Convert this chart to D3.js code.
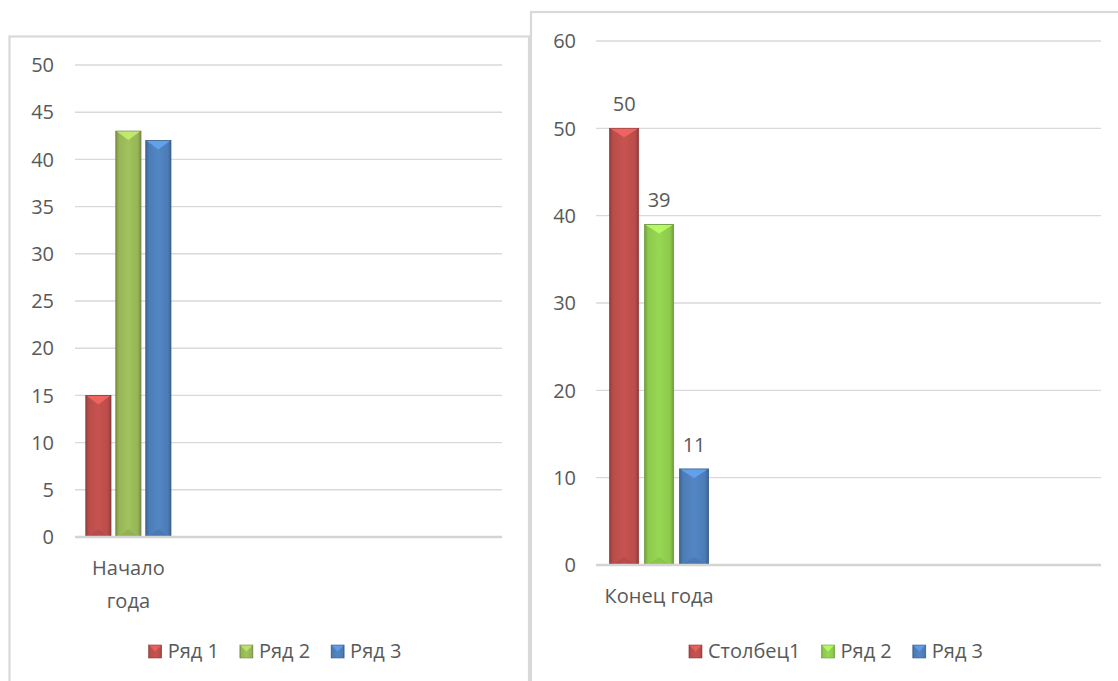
<!DOCTYPE html>
<html>
<head>
<meta charset="utf-8">
<script src="https://cdn.jsdelivr.net/npm/d3@7/dist/d3.min.js"></script>
<style>
  html, body { margin: 0; padding: 0; background: #fff; }
  svg { display: block; }
  text { font-family: "Open Sans", "Noto Sans", sans-serif; fill: #595959; }
</style>
</head>
<body>
<svg id="chart" width="1118" height="681"></svg>
<script>
// ---- data ----
const leftCategories = ["Начало года", "", "", ""];
const leftSeries = ["Ряд 1", "Ряд 2", "Ряд 3"];
const leftValues = [15, 43, 42];          // values for the first category
const leftTicks = [0, 5, 10, 15, 20, 25, 30, 35, 40, 45, 50];
const leftColors = ["#C0504D", "#9BBB59", "#4F81BD"];

const rightCategories = ["Конец года", "", "", ""];
const rightSeries = ["Столбец1", "Ряд 2", "Ряд 3"];
const rightValues = [50, 39, 11];
const rightTicks = [0, 10, 20, 30, 40, 50, 60];
const rightColors = ["#C0504D", "#92D050", "#4F81BD"];

const svg = d3.select("#chart");
const defs = svg.append("defs");
let gradId = 0;
function gradFor(color) {
  const id = "g" + (gradId++);
  const c = d3.color(color);
  const g = defs.append("linearGradient").attr("id", id)
    .attr("x1", 0).attr("x2", 1).attr("y1", 0).attr("y2", 0);
  g.append("stop").attr("offset", 0).attr("stop-color", c.darker(0.7));
  g.append("stop").attr("offset", 0.12).attr("stop-color", c.darker(0.1));
  g.append("stop").attr("offset", 0.5).attr("stop-color", c.brighter(0.1));
  g.append("stop").attr("offset", 0.88).attr("stop-color", c.darker(0.1));
  g.append("stop").attr("offset", 1).attr("stop-color", c.darker(0.8));
  return id;
}

function wrapLines(text, maxWidth) {
  const words = text.split(/\s+/);
  const probe = svg.append("text").style("font-size", "20px");
  const lines = [];
  let cur = "";
  words.forEach(w => {
    const t = cur ? cur + " " + w : w;
    probe.text(t);
    if (probe.node().getComputedTextLength() > maxWidth && cur) {
      lines.push(cur); cur = w;
    } else cur = t;
  });
  if (cur) lines.push(cur);
  probe.remove();
  return lines;
}

function drawChart(cfg) {
  const g = svg.append("g");
  // frame
  g.append("rect")
    .attr("x", cfg.frame[0]).attr("y", cfg.frame[1])
    .attr("width", cfg.frame[2]).attr("height", cfg.frame[3])
    .attr("fill", "#fff").attr("stroke", "#d9d9d9").attr("stroke-width", 2.2);

  const y = d3.scaleLinear().domain([0, d3.max(cfg.ticks)]).range([cfg.y0, cfg.y1]);
  const x = d3.scaleBand().domain(d3.range(cfg.categories.length)).range([cfg.x0, cfg.x1]);
  const xs = d3.scaleBand().domain(cfg.series).range([0, x.bandwidth()])
    .paddingInner(cfg.pin).paddingOuter(cfg.pout);

  // gridlines
  g.append("g").selectAll("line").data(cfg.ticks.filter(t => t !== 0)).join("line")
    .attr("x1", cfg.x0).attr("x2", cfg.x1)
    .attr("y1", d => y(d)).attr("y2", d => y(d))
    .attr("stroke", "#d9d9d9").attr("stroke-width", 1.4);

  // tick labels
  g.append("g").selectAll("text").data(cfg.ticks).join("text")
    .attr("x", cfg.labelX).attr("y", d => y(d)).attr("dy", "0.36em")
    .attr("text-anchor", "end").style("font-size", "20px")
    .text(d => d);

  // bars
  const bars = g.append("g");
  cfg.series.forEach((s, i) => {
    const v = cfg.values[i];
    const bx = x(0) + xs(s);
    const bw = xs.bandwidth();
    const top = y(v), bot = y(0);
    const c = d3.color(cfg.colors[i]);
    const gid = gradFor(cfg.colors[i]);
    bars.append("rect").attr("x", bx).attr("y", top).attr("width", bw).attr("height", bot - top)
      .attr("fill", `url(#${gid})`).attr("stroke", c.darker(0.9)).attr("stroke-width", 0.8);
    // top bevel chevron
    bars.append("path")
      .attr("d", `M${bx + 1},${top + 0.5} L${bx + bw - 1},${top + 0.5} L${bx + bw / 2},${top + 9} Z`)
      .attr("fill", c.brighter(0.7)).attr("opacity", 0.85);
    // bottom bevel
    bars.append("path")
      .attr("d", `M${bx + 3},${bot} L${bx + bw - 3},${bot} L${bx + bw / 2},${bot - 8} Z`)
      .attr("fill", c.darker(0.6)).attr("opacity", 0.35);
    if (cfg.dataLabels) {
      bars.append("text").attr("x", bx + bw / 2).attr("y", top - 17)
        .attr("text-anchor", "middle").style("font-size", "20px").text(v);
    }
  });

  // axis line
  g.append("line").attr("x1", cfg.x0).attr("x2", cfg.x1)
    .attr("y1", y(0)).attr("y2", y(0))
    .attr("stroke", "#d4d4d4").attr("stroke-width", 2.4);

  // category labels
  cfg.categories.forEach((cat, i) => {
    if (!cat) return;
    const lines = wrapLines(cat, x.bandwidth());
    const t = g.append("text").attr("text-anchor", "middle").style("font-size", "20px");
    lines.forEach((ln, k) => {
      t.append("tspan").attr("x", x(i) + x.bandwidth() / 2)
        .attr("y", y(0) + 38 + k * 33).text(ln);
    });
  });

  // legend
  const lg = g.append("g");
  const items = cfg.series.map((s, i) => {
    const it = lg.append("g");
    const c = d3.color(cfg.colors[i]);
    const gid = gradFor(cfg.colors[i]);
    it.append("rect").attr("x", 0).attr("y", -6).attr("width", 13).attr("height", 13)
      .attr("fill", `url(#${gid})`).attr("stroke", c.darker(0.8)).attr("stroke-width", 0.6);
    it.append("path").attr("d", "M0.5,-5.5 L12.5,-5.5 L6.5,0.5 Z")
      .attr("fill", c.brighter(0.6)).attr("opacity", 0.85);
    const tx = it.append("text").attr("x", 19).attr("y", 7).style("font-size", "20px").text(s);
    return { it, w: 19 + tx.node().getComputedTextLength() };
  });
  const gap = 21;
  const total = d3.sum(items, d => d.w) + gap * (items.length - 1);
  let cx = cfg.legendCenter - total / 2;
  items.forEach(d => { d.it.attr("transform", `translate(${cx},${cfg.legendY})`); cx += d.w + gap; });
}

drawChart({
  frame: [9.5, 36.5, 519.5, 700],
  categories: leftCategories, series: leftSeries, values: leftValues,
  ticks: leftTicks, colors: leftColors,
  x0: 75, x1: 502, y0: 537, y1: 65, labelX: 54,
  pin: 0.16, pout: 0.36, dataLabels: false,
  legendCenter: 275, legendY: 651
});

drawChart({
  frame: [531, 12, 700, 720],
  categories: rightCategories, series: rightSeries, values: rightValues,
  ticks: rightTicks, colors: rightColors,
  x0: 596, x1: 1101, y0: 565, y1: 41, labelX: 576,
  pin: 0.17, pout: 0.39, dataLabels: true,
  legendCenter: 836, legendY: 651
});
</script>
</body>
</html>
